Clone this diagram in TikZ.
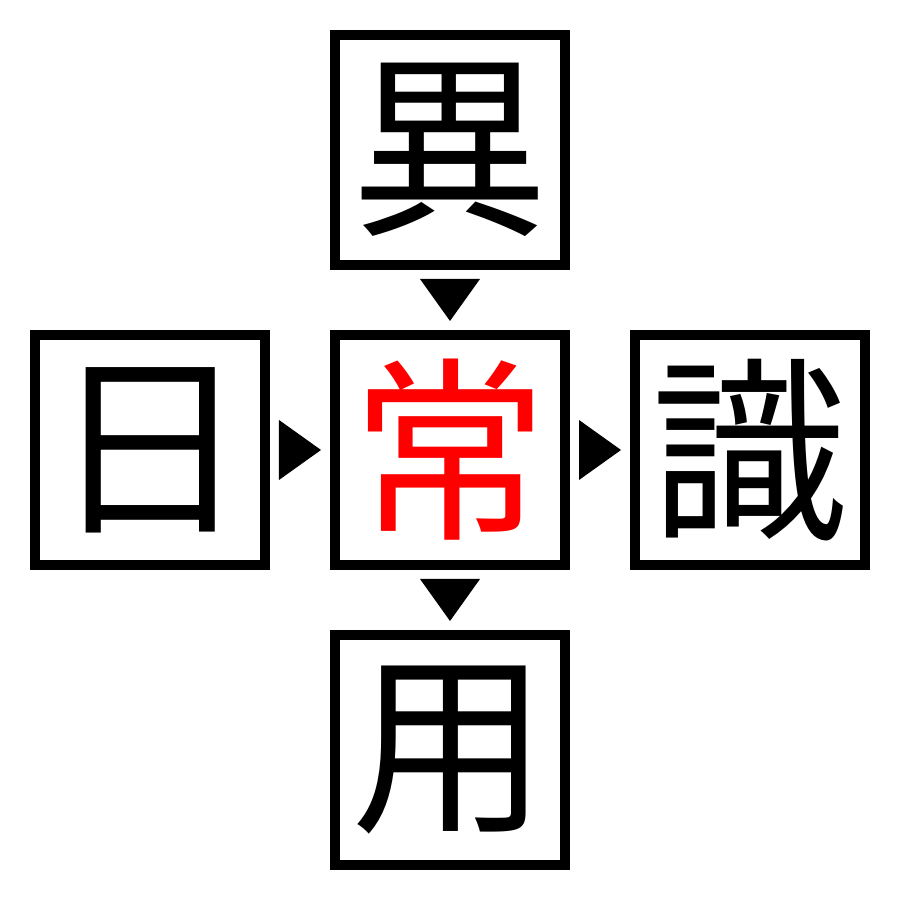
\documentclass[tikz,border=0pt]{standalone}
\usepackage{fontspec}
\newfontfamily\jpfont{Noto Sans CJK JP}
\usetikzlibrary{positioning,calc}

\begin{document}
\begin{tikzpicture}
  % -----------------------------
  % SETTINGS
  % -----------------------------
  \def\gap{0.6}   % gap between boxes
  \def\tw{0.3}    % half base of a marker
  \def\th{0.21}   % half height of a marker

  % -----------------------------
  % STYLES
  % -----------------------------
  \tikzset{
    kbox/.style={draw, line width=0.1cm, minimum size=2.3cm, inner sep=0pt,
                 font=\jpfont\fontsize{56}{56}\selectfont},
    kred/.style={text=red},
    mark/.style={fill=black},
  }

  \useasboundingbox (0,0) rectangle (9,9);

  % -----------------------------
  % BOXES
  % -----------------------------
  \node[kbox, kred] (C) at (4.5,4.5) {常};
  \node[kbox, above=\gap cm of C] (T) {異};
  \node[kbox, below=\gap cm of C] (B) {用};
  \node[kbox, left=\gap cm of C]  (L) {日};
  \node[kbox, right=\gap cm of C] (R) {識};

  % -----------------------------
  % MARKERS (down / right)
  % -----------------------------
  \foreach \a/\b/\r in {T/C/0, C/B/0, L/C/90, C/R/90} {
    \fill[shift={($(\a)!0.5!(\b)$)}, rotate=\r]
      (-\tw,\th) -- (\tw,\th) -- (0,-\th) -- cycle;
  }
\end{tikzpicture}
\end{document}
